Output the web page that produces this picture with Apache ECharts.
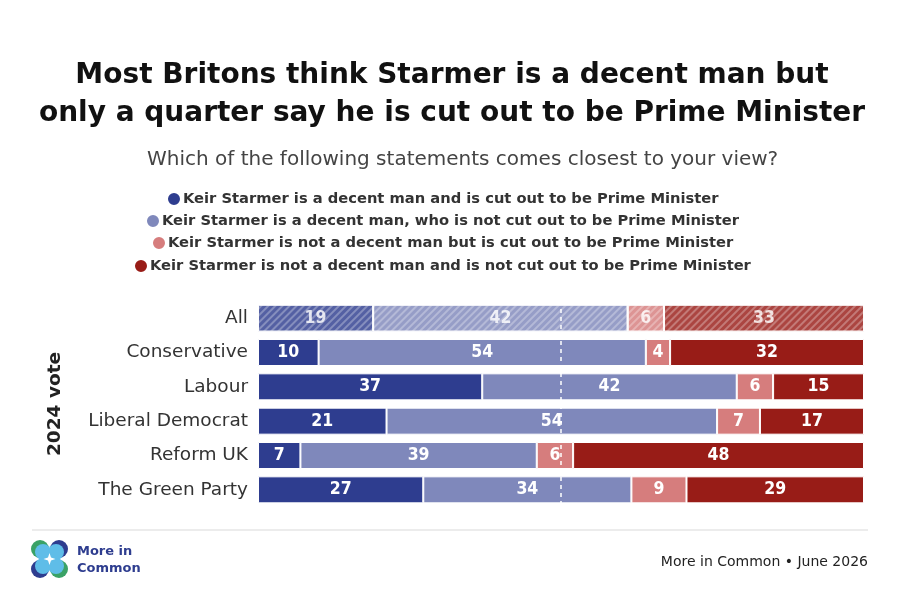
<!DOCTYPE html>
<html><head><meta charset="utf-8">
<script src="https://cdn.jsdelivr.net/npm/echarts@6/dist/echarts.min.js"></script>
<style>html,body{margin:0;padding:0;background:#fff}#c{width:904px;height:602px}</style>
</head><body><div id="c"></div>
<script>
const categories = ['All', 'Conservative', 'Labour', 'Liberal Democrat', 'Reform UK', 'The Green Party'];
const seriesNames = [
  'Keir Starmer is a decent man and is cut out to be Prime Minister',
  'Keir Starmer is a decent man, who is not cut out to be Prime Minister',
  'Keir Starmer is not a decent man but is cut out to be Prime Minister',
  'Keir Starmer is not a decent man and is not cut out to be Prime Minister'
];
const decentAndCutOut = [19, 10, 37, 21, 7, 27];
const decentNotCutOut = [42, 54, 42, 54, 39, 34];
const notDecentCutOut = [6, 4, 6, 7, 6, 9];
const notDecentNotCutOut = [33, 32, 15, 17, 48, 29];
const colors = ['#2e3d8f', '#7f88bb', '#d67d7d', '#981c17'];

const raw = [decentAndCutOut, decentNotCutOut, notDecentCutOut, notDecentNotCutOut];
const rowSums = categories.map((_, i) => raw.reduce((s, arr) => s + arr[i], 0));

const hatch = {
  symbol: 'rect', symbolSize: 1, color: 'rgba(255,255,255,0.35)',
  dashArrayX: [1, 0], dashArrayY: [2, 3], rotation: -Math.PI / 4
};
const FONT = '"DejaVu Sans", Inter, sans-serif';

const chart = echarts.init(document.getElementById('c'), null, {renderer: 'canvas'});
const series = raw.map((arr, si) => ({
  name: seriesNames[si],
  type: 'bar',
  stack: 'total',
  barWidth: 27,
  itemStyle: {color: colors[si], borderColor: '#fff', borderWidth: 1},
  label: {
    show: true, position: 'inside', color: '#fff',
    fontFamily: '"DejaVu Sans Condensed", "Liberation Sans Narrow", "DejaVu Sans", sans-serif',
    fontWeight: 'bold', fontSize: 17.5,
    formatter: p => String(arr[p.dataIndex])
  },
  data: arr.map((v, i) => {
    const item = {value: v * 100 / rowSums[i]};
    if (i === 0) item.itemStyle = {opacity: 0.82, decal: hatch};
    return item;
  }),
  markLine: si === 3 ? {
    silent: true, symbol: 'none', z: 10,
    label: {show: false},
    lineStyle: {color: '#fff', type: [4, 4], width: 1.5},
    data: [{xAxis: 50}]
  } : undefined
}));

// legend rows centred around x = 440 like the reference
const legendFontSize = 14.7, legendIcon = 14, legendGap = 2, legendCenterX = 440;
const mctx = document.createElement('canvas').getContext('2d');
mctx.font = 'bold ' + legendFontSize + 'px ' + FONT;
const legendTops = [191, 213, 235, 258];
const legends = seriesNames.map((n, i) => {
  const w = legendIcon + legendGap - 3 + mctx.measureText(n).width;
  return {
    data: [n], left: Math.round(legendCenterX - w / 2), top: legendTops[i],
    padding: 0,
    icon: 'circle', itemWidth: legendIcon, itemHeight: legendIcon, itemGap: legendGap,
    selectedMode: false,
    textStyle: {fontFamily: FONT, fontWeight: 'bold', fontSize: legendFontSize, color: '#333', padding: [0, 0, 0, -3]}
  };
});

chart.setOption({
  backgroundColor: '#fff',
  animation: false,
  title: [{
    text: 'Most Britons think Starmer is a decent man but\nonly a quarter say he is cut out to be Prime Minister',
    left: 'center', top: 52,
    textStyle: {fontFamily: FONT, fontWeight: 'bold', fontSize: 28, lineHeight: 38, color: '#111'}
  }, {
    text: 'Which of the following statements comes closest to your view?',
    left: 142, top: 145,
    textStyle: {fontFamily: FONT, fontWeight: 'normal', fontSize: 20, color: '#444'}
  }],
  legend: legends,
  grid: {left: 258, right: 40, top: 301, bottom: 95},
  xAxis: {type: 'value', min: 0, max: 100, show: false},
  yAxis: {
    type: 'category', data: categories, inverse: true,
    axisLine: {show: false}, axisTick: {show: false},
    axisLabel: {fontFamily: FONT, fontSize: 18.5, color: '#333', margin: 10},
    name: '2024 vote', nameLocation: 'middle', nameRotate: 90, nameGap: 193,
    nameTextStyle: {fontFamily: FONT, fontWeight: 'bold', fontSize: 18.5, color: '#222'}
  },
  series: series,
  graphic: [
    {type: 'line', shape: {x1: 32, y1: 530, x2: 868, y2: 530}, style: {stroke: '#e6e6e6', lineWidth: 1.5}},
    {type: 'circle', shape: {cx: 40, cy: 549, r: 9}, style: {fill: '#3aa266'}},
    {type: 'circle', shape: {cx: 59, cy: 549, r: 9}, style: {fill: '#2e3d8f'}},
    {type: 'circle', shape: {cx: 40, cy: 569, r: 9}, style: {fill: '#2e3d8f'}},
    {type: 'circle', shape: {cx: 59, cy: 569, r: 9}, style: {fill: '#3aa266'}},
    {type: 'circle', shape: {cx: 43, cy: 552, r: 8}, style: {fill: '#5fbde8'}},
    {type: 'circle', shape: {cx: 56, cy: 552, r: 8}, style: {fill: '#5fbde8'}},
    {type: 'circle', shape: {cx: 43, cy: 566, r: 8}, style: {fill: '#5fbde8'}},
    {type: 'circle', shape: {cx: 56, cy: 566, r: 8}, style: {fill: '#5fbde8'}},
    {type: 'polygon', shape: {points: [[49.5, 553], [51, 557.5], [55.5, 559], [51, 560.5], [49.5, 565], [48, 560.5], [43.5, 559], [48, 557.5]]}, style: {fill: '#fff'}},
    {type: 'text', left: 77, top: 543, style: {text: 'More in\nCommon', font: 'bold 13px "DejaVu Sans", sans-serif', lineHeight: 17, fill: '#2e3d8f'}},
    {type: 'text', right: 36, top: 555, style: {text: 'More in Common • June 2026', font: '14px "DejaVu Sans", sans-serif', fill: '#222'}}
  ]
});
</script></body></html>
